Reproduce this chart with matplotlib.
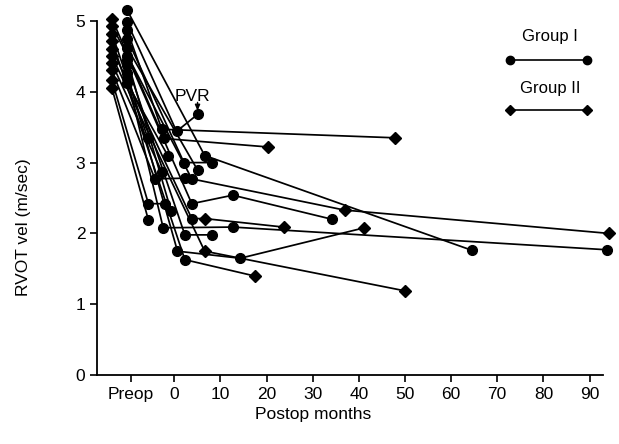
import numpy as np
import matplotlib.pyplot as plt

plt.rcParams["font.family"] = ["Liberation Sans", "DejaVu Sans"]

# preop values are drawn in one column per group, left of month 0
PREOP_POS = -9.4
preop_x = {"I": -10.2, "II": -13.5}

group = ["I", "I", "I", "I", "I", "I", "I", "I", "I", "I", "I",
         "II", "II", "II", "II", "II", "II", "II", "II", "II", "II"]
preop_vel = [5.15, 4.98, 4.87, 4.75, 4.62, 4.50, 4.38, 4.26, 4.12, 4.45, 4.20,
             5.03, 4.93, 4.82, 4.72, 4.61, 4.50, 4.40, 4.30, 4.16, 4.05]
post_months = [
    [6.6, 64.6], [0.5, 5.05], [-2.7, 47.8], [2.1, 8.1], [5.1],
    [3.8, 12.7, 34.2], [2.3, 8.2], [0.7, 14.3, 41.2], [-1.4], [-0.7],
    [-2.4, 12.7, 93.7],
    [-2.2, 20.4], [3.8, 36.9, 94.3], [-5.7], [2.3, 17.4],
    [3.8, 6.6, 23.7], [6.6, 50.0], [-2.7], [-4.2, 2.3], [-5.6, -2.0], [-5.6],
]
post_vel = [
    [3.10, 1.76], [3.44, 3.68], [3.47, 3.35], [3.00, 3.00], [2.89],
    [2.42, 2.54, 2.20], [1.98, 1.98], [1.75, 1.65, 2.08], [3.10], [2.32],
    [2.08, 2.09, 1.77],
    [3.34, 3.22], [2.77, 2.33, 2.00], [3.34], [1.63, 1.40],
    [2.21, 2.21, 2.09], [1.75, 1.19], [2.87], [2.77, 2.78], [2.42, 2.42], [2.19],
]
# group symbol each follow-up point carries in the figure
post_sym = [
    ["I", "I"], ["I", "I"], ["I", "II"], ["I", "I"], ["I"],
    ["I", "I", "I"], ["I", "I"], ["I", "I", "II"], ["I"], ["I"],
    ["I", "I", "I"],
    ["I", "II"], ["I", "II", "II"], ["I"], ["I", "II"],
    ["I", "II", "II"], ["II", "II"], ["I"], ["I", "I"], ["I", "I"], ["I"],
]
pvr_month, pvr_vel = 5.05, 3.68

tick_months = [PREOP_POS, 0, 10, 20, 30, 40, 50, 60, 70, 80, 90]
tick_labels = ["Preop", "0", "10", "20", "30", "40", "50", "60", "70", "80", "90"]

marker = {"I": "o", "II": "D"}
msize = {"I": 7, "II": 6}

fig = plt.figure(figsize=(6.19, 4.44), dpi=100)
ax = fig.add_axes([0.157, 0.155, 0.817, 0.798])

for g, pv, mx, my, sy in zip(group, preop_vel, post_months, post_vel, post_sym):
    xs = [preop_x[g]] + mx
    ys = [pv] + my
    ax.plot(xs, ys, color="black", lw=1.25, zorder=2, clip_on=False)
    syms = [g] + sy
    for x, y, s in zip(xs, ys, syms):
        ax.plot(x, y, marker=marker[s], ms=msize[s], color="black",
                ls="none", zorder=3, clip_on=False)

# PVR label with a short arrow down to the point
ax.text(pvr_month - 1.1, 3.87, "PVR", ha="center", va="baseline", fontsize=12.5)
ax.annotate("", xy=(pvr_month, pvr_vel + 0.05), xytext=(pvr_month, 3.85),
            arrowprops=dict(arrowstyle="-|>,head_length=0.35,head_width=0.15",
                            color="black", lw=1.0, shrinkA=0, shrinkB=0))

# legend drawn by hand, like the original figure
ax.text(0.895, 0.955, "Group I", transform=ax.transAxes, ha="center", va="center", fontsize=12)
ax.plot([0.816, 0.968], [0.89, 0.89], transform=ax.transAxes, color="black", lw=1.2,
        marker="o", ms=6, clip_on=False)
ax.text(0.895, 0.81, "Group II", transform=ax.transAxes, ha="center", va="center", fontsize=12)
ax.plot([0.816, 0.968], [0.749, 0.749], transform=ax.transAxes, color="black", lw=1.2,
        marker="D", ms=5.5, clip_on=False)

ax.set_xlim(-16.7, 92.9)
ax.set_ylim(0, 5)
ax.set_xticks(tick_months)
ax.set_xticklabels(tick_labels)
ax.set_yticks([0, 1, 2, 3, 4, 5])
ax.tick_params(direction="out", length=5, width=1.2, labelsize=12.5, colors="black")
for side in ["top", "right"]:
    ax.spines[side].set_visible(False)
for side in ["left", "bottom"]:
    ax.spines[side].set_linewidth(1.3)

ax.set_xlabel("Postop months", fontsize=12.5)
ax.set_ylabel("RVOT vel (m/sec)", fontsize=12.5)
ax.xaxis.set_label_coords(0.427, -0.09)
ax.yaxis.set_label_coords(-0.13, 0.418)

fig.savefig("out.png", dpi=100)
